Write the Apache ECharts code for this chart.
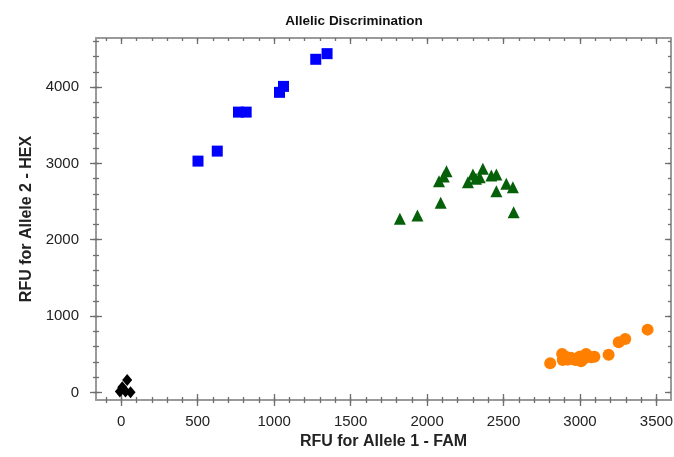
<!DOCTYPE html>
<html><head><meta charset="utf-8">
<script src="https://cdn.jsdelivr.net/npm/echarts/dist/echarts.min.js"></script>
<style>html,body{margin:0;padding:0;background:#fff}#c{width:674px;height:457px}</style>
</head><body><div id="c"></div>
<script>
const chartTitle = 'Allelic Discrimination';
const xName = 'RFU for Allele 1 - FAM';
const yName = 'RFU for Allele 2 - HEX';
const xTicks = [0, 500, 1000, 1500, 2000, 2500, 3000, 3500];
const yTicks = [0, 1000, 2000, 3000, 4000];
const xMinorTicks = [-100, 0, 100, 200, 300, 400, 500, 600, 700, 800, 900, 1000, 1100, 1200, 1300, 1400, 1500, 1600, 1700, 1800, 1900, 2000, 2100, 2200, 2300, 2400, 2500, 2600, 2700, 2800, 2900, 3000, 3100, 3200, 3300, 3400, 3500];
const yMinorTicks = [0, 200, 400, 600, 800, 1000, 1200, 1400, 1600, 1800, 2000, 2200, 2400, 2600, 2800, 3000, 3200, 3400, 3600, 3800, 4000, 4200, 4400, 4600];

// Allele 2 (HEX) - blue squares
const allele2Pts = [[502, 3030], [628, 3161], [767, 3672], [817, 3672], [1035, 3931], [1061, 4009], [1272, 4364], [1346, 4438]];
// Heterozygous - green triangles
const heteroPts = [[1822, 2274], [1937, 2317], [2089, 2484], [2078, 2767], [2127, 2898], [2109, 2829], [2267, 2754], [2300, 2855], [2344, 2820], [2365, 2930], [2320, 2800], [2420, 2842], [2453, 2855], [2453, 2636], [2518, 2733], [2561, 2689], [2566, 2361]];
// Allele 1 (FAM) - orange circles
const allele1Pts = [[2805, 380], [2883, 504], [2887, 425], [2920, 429], [2952, 438], [2985, 446], [3007, 407], [2905, 470], [2940, 455], [2970, 425], [3000, 470], [3025, 440], [3040, 504], [3072, 459], [3094, 468], [3187, 494], [3253, 656], [3296, 700], [3442, 822]];
// No template control - black diamonds
const ntcPts = [[39, 163], [7, 66], [-9, 13], [61, 0], [28, 13]];

const X_MIN = -165, X_MAX = 3595, Y_MIN = -100, Y_MAX = 4643;
const lineCol = '#9a9a9a', tickCol = '#6e6e6e', labCol = '#222';
const FONT = 'Liberation Sans, Arial, sans-serif';

function axisBase(dim, pos, ticks, len, inside, showLine) {
  return {
    type: 'value', position: pos,
    min: dim === 'x' ? X_MIN : Y_MIN, max: dim === 'x' ? X_MAX : Y_MAX,
    splitLine: { show: false },
    axisLine: { show: showLine, onZero: false, lineStyle: { color: lineCol, width: 2 } },
    axisTick: { show: true, inside: inside, length: len, customValues: ticks, lineStyle: { color: tickCol, width: 1.3 } },
    axisLabel: { show: false }
  };
}
const plainNum = v => String(v);

const xMain = axisBase('x', 'bottom', xTicks, 6, false, true);
xMain.axisLabel = { show: true, customValues: xTicks, formatter: plainNum, margin: 14, fontSize: 15, color: labCol, fontFamily: FONT };
xMain.name = xName; xMain.nameLocation = 'middle'; xMain.nameGap = 31;
xMain.nameTextStyle = { fontSize: 16, fontWeight: 'bold', color: '#222', fontFamily: FONT };

const yMain = axisBase('y', 'left', yTicks, 6, false, true);
yMain.axisLabel = { show: true, customValues: yTicks, formatter: plainNum, margin: 17, fontSize: 15, color: labCol, fontFamily: FONT };
yMain.name = yName; yMain.nameLocation = 'middle'; yMain.nameGap = 58;
yMain.nameTextStyle = { fontSize: 16, fontWeight: 'bold', color: '#222', fontFamily: FONT };

const option = {
  backgroundColor: '#fff',
  animation: false,
  title: { text: chartTitle, left: 349, top: 9, textAlign: 'center',
    textStyle: { fontSize: 13.5, fontWeight: 'bold', color: '#111', fontFamily: FONT } },
  grid: { left: 96, right: 3, top: 38, bottom: 57, containLabel: false, outerBoundsMode: 'none' },
  xAxis: [
    xMain,
    axisBase('x', 'bottom', xTicks, 6, true, false),
    axisBase('x', 'bottom', xMinorTicks, 3, false, false),
    axisBase('x', 'bottom', xMinorTicks, 3, true, false),
    axisBase('x', 'top', xTicks, 6, true, true),
    axisBase('x', 'top', xMinorTicks, 3, true, false)
  ],
  yAxis: [
    yMain,
    axisBase('y', 'left', yTicks, 6, true, false),
    axisBase('y', 'left', yMinorTicks, 3, false, false),
    axisBase('y', 'left', yMinorTicks, 3, true, false),
    axisBase('y', 'right', yTicks, 6, true, true),
    axisBase('y', 'right', yMinorTicks, 3, true, false)
  ],
  series: [
    { name: 'Allele 2', type: 'scatter', data: allele2Pts, symbol: 'rect', symbolSize: 11,
      itemStyle: { color: '#0000ff', opacity: 1 } },
    { name: 'Heterozygote', type: 'scatter', data: heteroPts, symbol: 'triangle', symbolSize: 12,
      itemStyle: { color: '#06600a', opacity: 1 } },
    { name: 'Allele 1', type: 'scatter', data: allele1Pts, symbol: 'circle', symbolSize: 12,
      itemStyle: { color: '#ff8000', opacity: 1 } },
    { name: 'NTC', type: 'scatter', data: ntcPts, symbol: 'diamond', symbolSize: [10, 12],
      itemStyle: { color: '#000', opacity: 1 } }
  ]
};
const chart = echarts.init(document.getElementById('c'), null, { renderer: 'canvas' });
chart.setOption(option);
</script></body></html>
